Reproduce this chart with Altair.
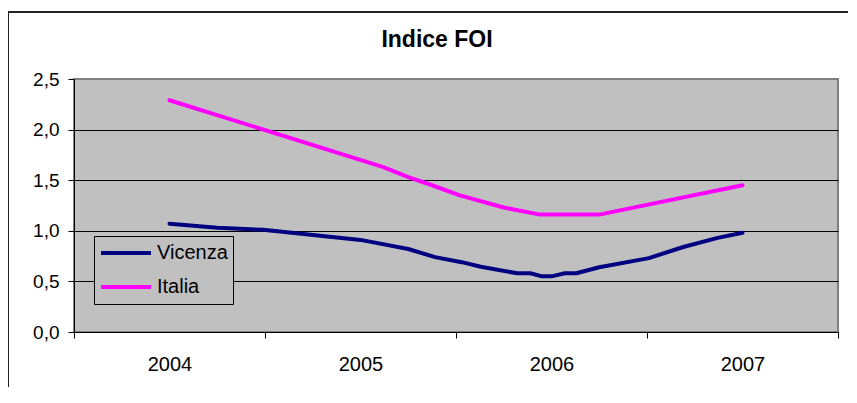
import altair as alt
import pandas as pd

# --- data ---
vicenza_t = [2004.00, 2004.25, 2004.49, 2005.00, 2005.25, 2005.39, 2005.53, 2005.63,
             2005.82, 2005.89, 2005.95, 2006.00, 2006.07, 2006.13, 2006.25, 2006.51,
             2006.69, 2006.87, 2007.00]
vicenza_v = [1.07, 1.03, 1.01, 0.91, 0.82, 0.74, 0.69, 0.645,
             0.58, 0.58, 0.55, 0.55, 0.58, 0.58, 0.64, 0.73,
             0.84, 0.93, 0.98]
italia_t = [2004.00, 2005.12, 2005.25, 2005.36, 2005.52, 2005.75, 2005.94, 2006.25, 2007.00]
italia_v = [2.29, 1.63, 1.53, 1.46, 1.35, 1.23, 1.16, 1.16, 1.45]
series = ["Vicenza", "Italia"]
colors = ["#000080", "#FF00FF"]
years = [2004, 2005, 2006, 2007]
y_ticks = [0.0, 0.5, 1.0, 1.5, 2.0, 2.5]
title_text = "Indice FOI"

rows = []
for t, v in zip(vicenza_t, vicenza_v):
    rows.append({"t": t, "v": v, "serie": series[0]})
for t, v in zip(italia_t, italia_v):
    rows.append({"t": t, "v": v, "serie": series[1]})
df = pd.DataFrame(rows)
one = pd.DataFrame({"title": [title_text]})

x_edges = [years[0] - 0.5] + [y + 0.5 for y in years]

W, H = 764, 253
band = W / len(years)
FONT = "Liberation Sans"

lines = alt.Chart(df).mark_line(strokeWidth=4, strokeCap="round", strokeJoin="round").encode(
    x=alt.X("t:Q",
            scale=alt.Scale(domain=[x_edges[0], x_edges[-1]], nice=False, zero=False),
            axis=alt.Axis(values=x_edges, title=None, grid=False,
                          labelExpr="datum.value < %s ? format(datum.value + 0.5, 'd') : ''" % (years[-1]),
                          labelOffset=band / 2, labelOverlap=False, labelBound=False,
                          labelFlush=False,
                          tickSize=6, tickColor="black", domainColor="black",
                          labelFontSize=20, labelFont=FONT, labelColor="black",
                          labelPadding=16)),
    y=alt.Y("v:Q",
            scale=alt.Scale(domain=[0, 2.5], nice=False),
            axis=alt.Axis(values=y_ticks, title=None,
                          labelExpr="replace(format(datum.value, '.1f'), '.', ',')",
                          tickSize=6, tickColor="black", domainColor="black",
                          gridColor=alt.condition("datum.value >= 2.5", alt.value("#808080"), alt.value("black")),
                          gridOpacity=1, gridWidth=1,
                          labelFontSize=19, labelFont=FONT, labelColor="black",
                          labelPadding=9)),
    color=alt.Color("serie:N",
                    scale=alt.Scale(domain=series, range=colors),
                    sort=series,
                    legend=alt.Legend(title=None, orient="none", legendX=20, legendY=157,
                                      symbolType="stroke", symbolSize=2500, symbolStrokeWidth=4,
                                      clipHeight=24, rowPadding=10, padding=5,
                                      labelFontSize=20, labelFont=FONT, labelColor="black",
                                      strokeColor="black", fillColor="#C0C0C0",
                                      labelOffset=4)),
)

title_mark = alt.Chart(one).mark_text(
    fontSize=23, font=FONT, fontWeight="bold", color="black",
    align="center", baseline="alphabetic"
).encode(x=alt.value(363), y=alt.value(-32), text="title:N")

frame_left = alt.Chart(one).mark_rule(color="#222222", strokeWidth=2).encode(
    x=alt.value(-66), y=alt.value(-67), y2=alt.value(H + 60))
frame_top = alt.Chart(one).mark_rule(color="#222222", strokeWidth=2).encode(
    x=alt.value(-66), x2=alt.value(W + 20), y=alt.value(-67))

chart = alt.layer(lines, title_mark, frame_left, frame_top).properties(
    width=W, height=H,
    padding={"left": 66, "top": 71, "right": 10, "bottom": 55},
    autosize=alt.AutoSizeParams(type="none"),
    background="white",
).configure_view(
    fill="#C0C0C0", stroke="#808080", strokeWidth=2
)

chart.save("out.html", embed_options={"renderer": "svg", "actions": False})
